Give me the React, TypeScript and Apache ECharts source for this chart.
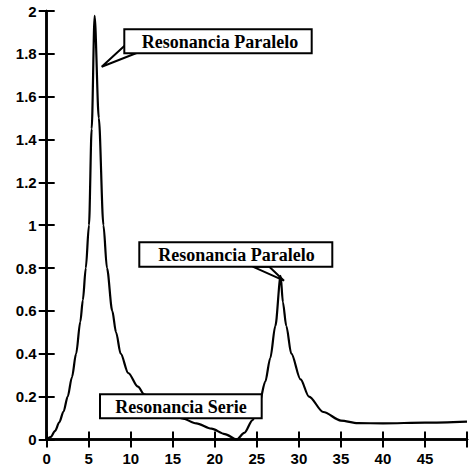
import React, { useEffect, useRef } from "react";
import * as echarts from "echarts";

// Frequency (x) and magnitude (y)
const xValues = [
  0, 0.5, 1, 1.5, 2, 2.5, 3, 3.5, 4, 4.3, 4.65, 5.03, 5.35, 5.7,
  6.2, 6.75, 7.17, 7.8, 8.25, 8.8, 9.7, 10.85, 11.6, 13.3, 14.8, 16.1, 17.8, 19.6, 21.2, 22.6,
  23.5, 24.5, 25.3, 26, 26.6, 27.2, 27.83,
  28.1, 28.5, 29.1, 30.2, 31.2, 32.9, 35, 37, 40, 45, 50,
];
const yValues = [
  0, 0.012, 0.04, 0.08, 0.13, 0.2, 0.29, 0.4, 0.55, 0.65, 0.8, 1.0, 1.45, 1.977,
  1.5, 1.0, 0.8, 0.6, 0.5, 0.4, 0.31, 0.246, 0.21, 0.155, 0.122, 0.098, 0.075, 0.05, 0.025, 0,
  0.03, 0.09, 0.17, 0.27, 0.38, 0.53, 0.763,
  0.64, 0.53, 0.4, 0.28, 0.2, 0.128, 0.088, 0.076, 0.075, 0.078, 0.083,
];

const xMin = 0;
const xMax = 50;
const xStep = 5;
const yMin = 0;
const yMax = 2;
const yStep = 0.2;

const calloutTexts = ["Resonancia Paralelo", "Resonancia Paralelo", "Resonancia Serie"];

export default function App() {
  const ref = useRef<HTMLDivElement>(null);
  useEffect(() => {
    if (!ref.current) return;
    const chart = echarts.init(ref.current, undefined, { renderer: "svg" });
    const axisStyle = { show: true, lineStyle: { color: "#000", width: 2.5 } };
    const tickStyle = { show: true, inside: true, length: 8, lineStyle: { color: "#000", width: 2 } };
    const labelFont = {
      fontFamily: "Liberation Sans",
      fontWeight: "bold",
      fontSize: 15,
      color: "#000",
    };
    const richLabel = {
      rich: { a: { ...labelFont } },
      ...labelFont,
    };

    const boxText = (cx: number, cy: number, text: string) => ({
      type: "text",
      x: cx,
      y: cy,
      z: 102,
      style: {
        text,
        fill: "#000",
        font: "bold 18px 'Liberation Serif'",
        align: "center",
        verticalAlign: "middle",
      },
    });
    const box = (x: number, y: number, w: number, h: number) => ({
      type: "rect",
      z: 101,
      shape: { x, y, width: w, height: h },
      style: { fill: "#fff", stroke: "#000", lineWidth: 2 },
    });
    const wedge = (pts: number[][]) => ({
      type: "polygon",
      z: 100,
      shape: { points: pts },
      style: { fill: "#fff", stroke: "#000", lineWidth: 2 },
    });

    chart.setOption({
      animation: false,
      backgroundColor: "#fff",
      textStyle: { fontFamily: "Liberation Sans", fontWeight: "bold", fontSize: 15, color: "#000" },
      grid: { left: 46.7, top: 11, width: 427.6, height: 428.4, containLabel: false },
      xAxis: [
        {
          type: "value",
          min: xMin,
          max: xMax,
          interval: xStep,
          axisLine: axisStyle,
          axisTick: tickStyle,
          splitLine: { show: false },
          axisLabel: {
            ...richLabel,
            margin: 12,
            formatter: (v: number) => (v === xMax ? "" : "{a|" + v + "}"),
          },
        },
        {
          type: "value",
          position: "top",
          min: xMin,
          max: xMax,
          interval: xStep,
          axisLine: axisStyle,
          axisTick: tickStyle,
          splitLine: { show: false },
          axisLabel: { show: false },
        },
      ],
      yAxis: [
        {
          type: "value",
          min: yMin,
          max: yMax,
          interval: yStep,
          axisLine: axisStyle,
          axisTick: tickStyle,
          splitLine: { show: false },
          axisLabel: {
            ...richLabel,
            margin: 10,
            formatter: (v: number) => "{a|" + Number(v.toFixed(1)) + "}",
          },
        },
        {
          type: "value",
          position: "right",
          min: yMin,
          max: yMax,
          interval: yStep,
          axisLine: axisStyle,
          axisTick: tickStyle,
          splitLine: { show: false },
          axisLabel: { show: false },
        },
      ],
      series: [
        {
          type: "line",
          xAxisIndex: 0,
          yAxisIndex: 0,
          data: xValues.map((x, i) => [x, yValues[i]]),
          showSymbol: false,
          symbol: "none",
          smooth: 0.3,
          smoothMonotone: "x",
          lineStyle: { color: "#000", width: 2.2 },
        },
      ],
      graphic: [
        wedge([[124.3, 46], [101.7, 66.7], [136, 53.3]]),
        box(124.3, 29.3, 187.4, 24),
        boxText(220, 41.5, calloutTexts[0]),
        wedge([[252.7, 266.7], [284, 280.7], [269.3, 266.7]]),
        box(139.3, 242.3, 193, 24.4),
        boxText(236.5, 254.7, calloutTexts[1]),
        box(100, 394.3, 161.7, 24),
        boxText(181, 406.5, calloutTexts[2]),
      ],
    });
    return () => chart.dispose();
  }, []);
  return (
    <div
      ref={ref}
      style={{ position: "absolute", left: 0, top: 0, width: 470, height: 472, overflow: "hidden" }}
    />
  );
}
